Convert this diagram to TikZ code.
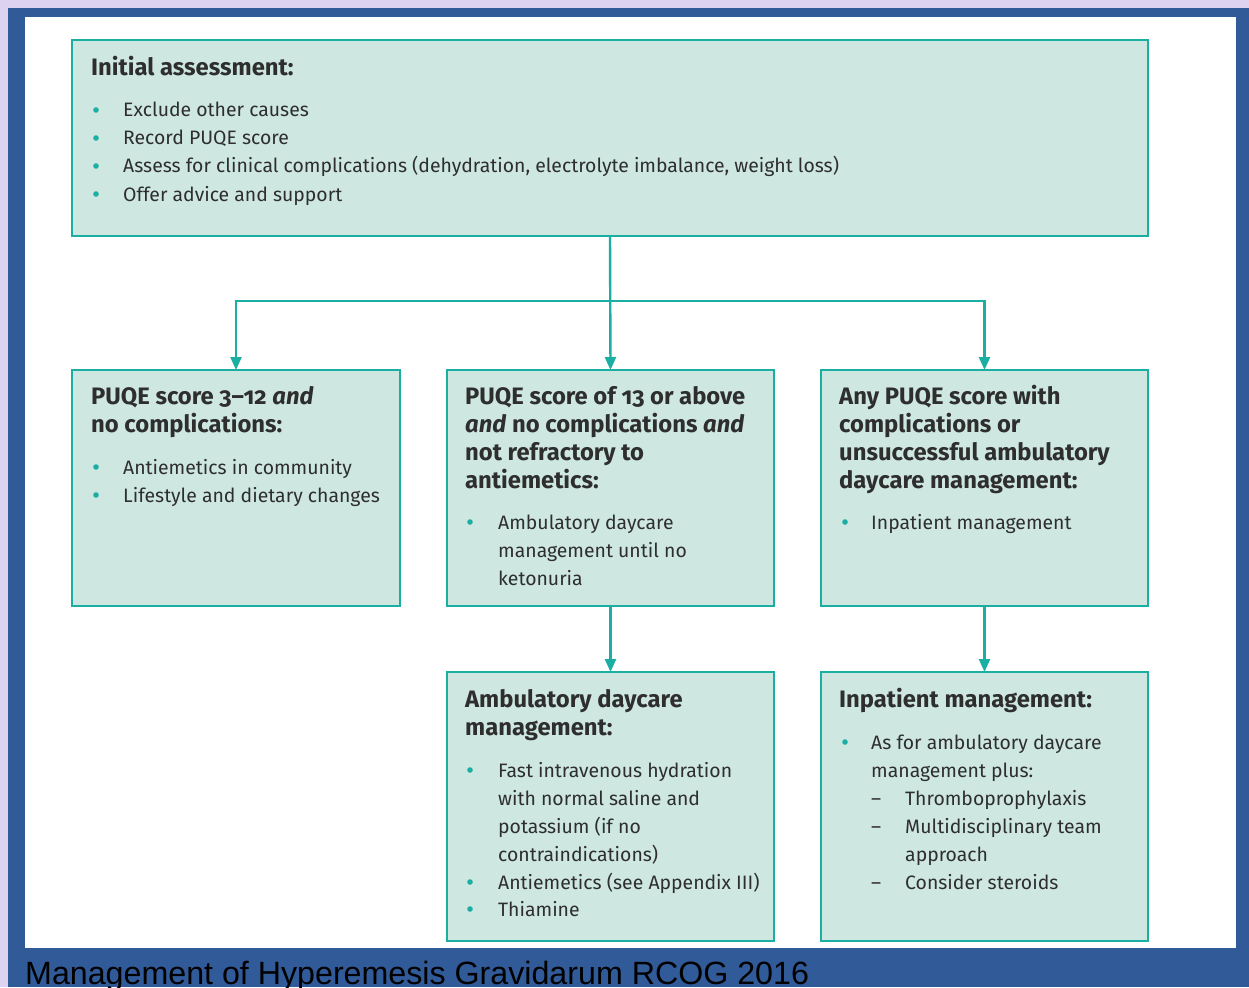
\documentclass[tikz,border=0pt]{standalone}
\usepackage{fontspec}
\setmainfont[Numbers=OldStyle]{Fira Sans}
\newfontfamily\capfont{Liberation Sans}
\usetikzlibrary{arrows.meta}
\definecolor{lav}{HTML}{DDD3F0}
\definecolor{framec}{HTML}{315A99}
\definecolor{boxfill}{HTML}{CEE8E1}
\definecolor{tealc}{HTML}{1BAFA4}
\definecolor{txt}{HTML}{2E2E2E}
\newcommand{\bul}[2]{\fill[tealc] (#1,#2) circle (2.8);}
\begin{document}
\begin{tikzpicture}[x=1pt,y=-1pt,
  box/.style={draw=tealc, line width=2.4pt, fill=boxfill, anchor=north west, inner sep=0pt, outer sep=0pt},
  hd/.style={anchor=base west, inner sep=0pt, text=txt, font=\bfseries\fontsize{23.8}{26}\selectfont},
  bt/.style={anchor=base west, inner sep=0pt, text=txt, font=\fontsize{19.4}{22}\selectfont},
  arr/.style={draw=tealc, line width=2.4pt, -{Triangle[length=13pt,width=11pt]}}]
\useasboundingbox (0,0) rectangle (1249,987);
\clip (0,0) rectangle (1249,987);
\fill[lav] (0,0) rectangle (1249,987);
\fill[framec] (8,8) rectangle (1249,987);
\fill[white] (25,17) rectangle (1236,948);
% boxes
\node[box, minimum width=1076pt, minimum height=196pt] (top) at (72,40) {};
\node[box, minimum width=328pt, minimum height=236pt] (b1) at (72,370) {};
\node[box, minimum width=327pt, minimum height=236pt] (b2) at (447,370) {};
\node[box, minimum width=327pt, minimum height=236pt] (b3) at (821,370) {};
\node[box, minimum width=327pt, minimum height=269pt] (b4) at (447,672) {};
\node[box, minimum width=327pt, minimum height=269pt] (b5) at (821,672) {};
% connectors
\coordinate (j) at (610,301);
\draw[arr] (top.south) -- (b2.north);
\draw[arr] (j) -| (b1.north);
\draw[arr] (j) -| (b3.north);
\draw[arr] (b2.south) -- (b4.north);
\draw[arr] (b3.south) -- (b5.north);
% top box text
\node[hd] (t0) at (91,76) {Initial assessment:};
\bul{96}{110}\node[bt] (t1) at (123,117) {Exclude other causes};
\bul{96}{138}\node[bt] (t2) at (123,145) {Record PUQE score};
\bul{96}{166}\node[bt] (t3) at (123,173) {Assess for clinical complications (dehydration, electrolyte imbalance, weight loss)};
\bul{96}{194}\node[bt] (t4) at (123,201) {Offer advice and support};
% box 1
\node[hd] (h1a) at (91,404) {PUQE score 3–12 \textit{and}};
\node[hd] (h1b) at (91,432) {no complications:};
\bul{96}{467}\node[bt] (s1a) at (123,474) {Antiemetics in community};
\bul{96}{495}\node[bt] (s1b) at (123,502) {Lifestyle and dietary changes};
% box 2
\node[hd] (h2a) at (465,404) {PUQE score of 13 or above};
\node[hd] (h2b) at (465,432) {\textit{and} no complications \textit{and}};
\node[hd] (h2c) at (465,460) {not refractory to};
\node[hd] (h2d) at (465,488) {antiemetics:};
\bul{470}{522}\node[bt] (s2a) at (498,529) {Ambulatory daycare};
\node[bt] (s2b) at (498,557) {management until no};
\node[bt] (s2c) at (498,585) {ketonuria};
% box 3
\node[hd] (h3a) at (839,404) {Any PUQE score with};
\node[hd] (h3b) at (839,432) {complications or};
\node[hd] (h3c) at (839,460) {unsuccessful ambulatory};
\node[hd] (h3d) at (839,488) {daycare management:};
\bul{845}{522}\node[bt] (s3a) at (871,529) {Inpatient management};
% box 4
\node[hd] (h4a) at (465,707) {Ambulatory daycare};
\node[hd] (h4b) at (465,735) {management:};
\bul{470}{770}\node[bt] (s4a) at (498,777) {Fast intravenous hydration};
\node[bt] (s4b) at (498,805) {with normal saline and};
\node[bt] (s4c) at (498,833) {potassium (if no};
\node[bt] (s4d) at (498,861) {contraindications)};
\bul{470}{882}\node[bt] (s4e) at (498,889) {Antiemetics (see Appendix III)};
\bul{470}{909}\node[bt] (s4f) at (498,916) {Thiamine};
% box 5
\node[hd] (h5a) at (839,707) {Inpatient management:};
\bul{845}{742}\node[bt] (s5a) at (871,749) {As for ambulatory daycare};
\node[bt] (s5b) at (871,777) {management plus:};
\node[bt] (d1) at (871,805) {–};\node[bt] (s5c) at (905,805) {Thromboprophylaxis};
\node[bt] (d2) at (871,833) {–};\node[bt] (s5d) at (905,833) {Multidisciplinary team};
\node[bt] (s5e) at (905,861) {approach};
\node[bt] (d3) at (871,889) {–};\node[bt] (s5f) at (905,889) {Consider steroids};
% caption
\node[anchor=base west, inner sep=0pt, font=\capfont\fontsize{32.2}{36}\selectfont, text=black] (cap) at (25,984) {Management of Hyperemesis Gravidarum RCOG 2016};
\end{tikzpicture}
\end{document}
